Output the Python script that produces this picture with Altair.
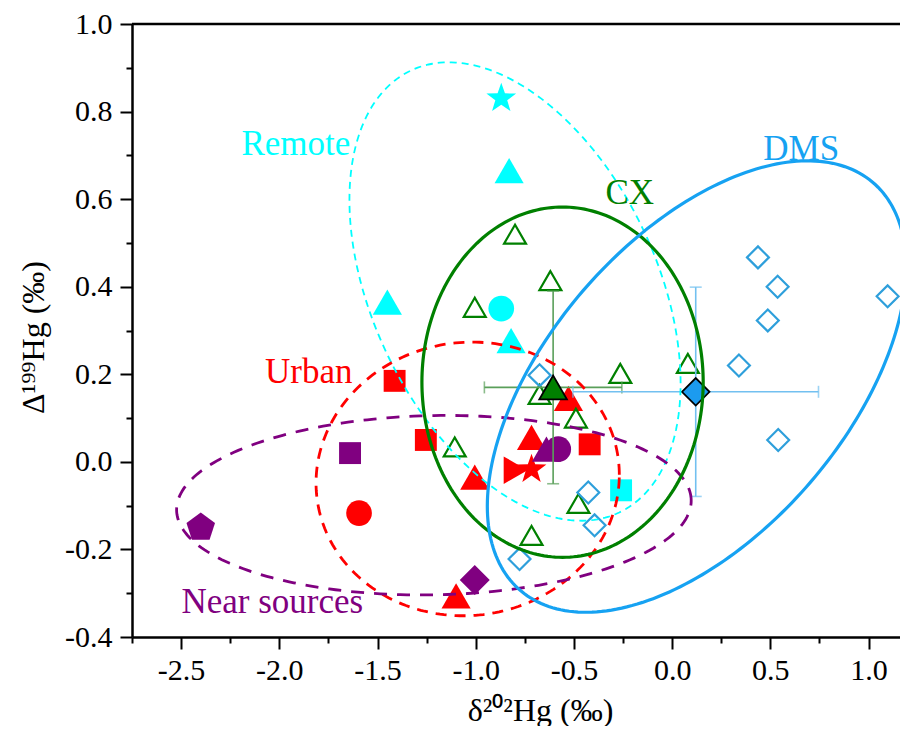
import numpy as np
import pandas as pd
import altair as alt

FONT = "Liberation Serif"

# ---------------- data ----------------
remote_x = [-0.87, -0.83, -1.45, -0.87, -0.82, -0.26]
remote_y = [0.83, 0.665, 0.365, 0.35, 0.277, -0.065]
remote_shape = ["star", "triangle-up", "triangle-up", "circle", "triangle-up", "square"]

urban_x = [-1.413, -1.254, -1.594, -1.10, -1.005, -0.716, -0.797, -0.716, -0.528, -0.42]
urban_y = [0.185, 0.05, -0.117, -0.306, -0.035, 0.056, -0.019, -0.017, 0.145, 0.04]
urban_shape = ["square", "square", "circle", "triangle-up", "triangle-up", "triangle-up",
               "triangle-right", "star", "triangle-up", "square"]

near_x = [-1.64, -2.40, -1.005, -0.64, -0.58]
near_y = [0.02, -0.15, -0.27, 0.029, 0.029]
near_shape = ["square", "pentagon", "diamond", "triangle-up", "circle"]

cx_x = [-0.80, -0.62, -1.005, -0.264, -0.675, -0.49, -1.107, 0.08, -0.477, -0.716]
cx_y = [0.52, 0.414, 0.353, 0.202, 0.154, 0.10, 0.034, 0.225, -0.095, -0.168]

dms_x = [0.437, 0.537, 0.487, 0.34, 0.54, 1.097, -0.427, -0.395, -0.777, -0.675]
dms_y = [0.467, 0.40, 0.323, 0.22, 0.05, 0.378, -0.07, -0.145, -0.222, 0.198]

mean_group = ["CX", "DMS"]
mean_shape = ["triangle-up", "diamond"]
mean_x = [-0.606, 0.12]
mean_y = [0.17, 0.16]
mean_xerr = [0.35, 0.625]
mean_yerr = [0.22, 0.239]

# ellipses: centre, half-extent in x and y, correlation
ell_name = ["Remote", "Urban", "Near sources", "CX", "DMS"]
ell_cx = [-0.80, -1.041, -1.213, -0.558, 0.125]
ell_cy = [0.389, -0.039, -0.099, 0.182, 0.172]
ell_sx = [0.843, 0.772, 1.31, 0.716, 1.066]
ell_sy = [0.5235, 0.3125, 0.205, 0.40, 0.5155]
ell_rho = [-0.40, 0.03, 0.05, 0.0, 0.53]

label_text = ["Remote", "DMS", "CX", "Urban", "Near sources"]
label_x = [-1.916, 0.657, -0.216, -1.850, -2.036]
label_y = [0.700, 0.690, 0.590, 0.180, -0.345]

x_ticks = [round(-2.75 + 0.25 * k, 2) for k in range(16)]
y_ticks = [round(-0.4 + 0.1 * k, 2) for k in range(15)]

# ---------------- styles ----------------
group_color = {"Remote": "#00FFFF", "Urban": "#FF0000", "Near sources": "#800080",
               "CX": "#008000", "DMS": "#2E9FDB"}
ell_style = {
    "Remote": dict(color="#00FFFF", strokeWidth=1.8, strokeDash=[7, 5]),
    "Urban": dict(color="#FF0000", strokeWidth=2.8, strokeDash=[11, 8]),
    "Near sources": dict(color="#800080", strokeWidth=2.8, strokeDash=[13, 10]),
    "CX": dict(color="#008000", strokeWidth=3.2),
    "DMS": dict(color="#16A2F2", strokeWidth=3.2),
}
label_color = {"Remote": "#00FFFF", "DMS": "#16A2F2", "CX": "#008000",
               "Urban": "#FF0000", "Near sources": "#800080"}
err_color = {"CX": "#5A9F5A", "DMS": "#72C0F0"}
mean_fill = {"CX": "#008000", "DMS": "#1C9BEF"}


def poly_path(n_pts, radii):
    pts = []
    for k in range(n_pts):
        a = -np.pi / 2 + k * 2 * np.pi / n_pts
        r = radii[k % len(radii)]
        pts.append(f"{r*np.cos(a):.4f},{r*np.sin(a):.4f}")
    return "M" + "L".join(pts) + "Z"


STAR = poly_path(10, [1.0, 0.4])
PENT = poly_path(5, [1.0])
shape_keys = ["circle", "square", "triangle-up", "triangle-right", "diamond", "star", "pentagon"]
shape_vals = ["circle", "square", "triangle-up", "triangle-right", "diamond", STAR, PENT]
shape_size = {"circle": 660, "square": 480, "triangle-up": 850, "triangle-right": 760,
              "diamond": 900, "star": 980, "pentagon": 900}

# ---------------- frames ----------------
rows = []
for g, xs, ys, ss in [("Remote", remote_x, remote_y, remote_shape),
                      ("Urban", urban_x, urban_y, urban_shape),
                      ("Near sources", near_x, near_y, near_shape)]:
    for x, y, s in zip(xs, ys, ss):
        rows.append(dict(x=x, y=y, group=g, shape=s, size=shape_size[s]))
filled_df = pd.DataFrame(rows)

open_rows = [dict(x=x, y=y, group="CX", shape="triangle-up", size=480) for x, y in zip(cx_x, cx_y)]
open_rows += [dict(x=x, y=y, group="DMS", shape="diamond", size=480) for x, y in zip(dms_x, dms_y)]
open_df = pd.DataFrame(open_rows)

xsc = alt.Scale(domain=[-2.75, 1.16], nice=False, zero=False)
ysc = alt.Scale(domain=[-0.4, 1.0], nice=False, zero=False)

major_x = "abs(datum.value*2 - round(datum.value*2)) < 0.001"
major_y = "abs(datum.value*5 - round(datum.value*5)) < 0.001"

common = dict(grid=False, domainColor="black", domainWidth=2.5, tickColor="black", tickWidth=2,
              labelFont=FONT, labelFontSize=30, labelColor="black",
              titleFont=FONT, titleFontSize=32, titleFontWeight="normal", titleColor="black")

x_axis = alt.Axis(
    values=x_ticks, title="δ²⁰²Hg (‰)",
    labelExpr=f"{major_x} ? replace(format(datum.value, '.1f'), '\u2212', '-') : ''",
    tickSize={"condition": {"test": major_x, "value": 12}, "value": 6},
    labelPadding=6, titleX=408, titleY=83, titleAlign="center", titleBaseline="alphabetic",
    **common,
)
y_axis = alt.Axis(
    values=y_ticks, title="Δ¹⁹⁹Hg (‰)",
    labelExpr=f"{major_y} ? replace(format(datum.value, '.1f'), '\u2212', '-') : ''",
    tickSize={"condition": {"test": major_y, "value": 12}, "value": 6},
    labelPadding=8, titleX=-89, titleY=313, titleAngle=270, titleAlign="center",
    titleBaseline="alphabetic",
    **common,
)

color_scale = alt.Scale(domain=list(group_color.keys()), range=list(group_color.values()))
shape_scale = alt.Scale(domain=shape_keys, range=shape_vals)

layers = []

# top frame line
layers.append(alt.Chart(pd.DataFrame({"v": [1.0]})).mark_rule(color="black", strokeWidth=2.5)
              .encode(y=alt.Y("v:Q", scale=ysc, axis=y_axis)))

filled = alt.Chart(filled_df).mark_point(filled=True, opacity=1, strokeWidth=0).encode(
    x=alt.X("x:Q", scale=xsc, axis=x_axis),
    y=alt.Y("y:Q", scale=ysc, axis=y_axis),
    color=alt.Color("group:N", scale=color_scale, legend=None),
    shape=alt.Shape("shape:N", scale=shape_scale, legend=None),
    size=alt.Size("size:Q", scale=None),
)
opened = alt.Chart(open_df).mark_point(filled=False, opacity=1, strokeWidth=2.2).encode(
    x=alt.X("x:Q", scale=xsc, axis=x_axis),
    y=alt.Y("y:Q", scale=ysc, axis=y_axis),
    color=alt.Color("group:N", scale=color_scale, legend=None),
    shape=alt.Shape("shape:N", scale=shape_scale, legend=None),
    size=alt.Size("size:Q", scale=None),
)
layers += [filled, opened]

# error bars and means
for g, mx, my, ex, ey, sh in zip(mean_group, mean_x, mean_y, mean_xerr, mean_yerr, mean_shape):
    c = err_color[g]
    d = pd.DataFrame({"x": [mx], "y": [my], "xlo": [mx - ex], "xhi": [mx + ex],
                      "ylo": [my - ey], "yhi": [my + ey]})
    base = alt.Chart(d)
    layers.append(base.mark_rule(color=c, strokeWidth=1.6).encode(
        x=alt.X("xlo:Q", scale=xsc, axis=x_axis), x2="xhi:Q", y=alt.Y("y:Q", scale=ysc, axis=y_axis)))
    layers.append(base.mark_rule(color=c, strokeWidth=1.6).encode(
        x=alt.X("x:Q", scale=xsc, axis=x_axis), y=alt.Y("ylo:Q", scale=ysc, axis=y_axis), y2="yhi:Q"))
    capsx = pd.DataFrame({"x": [mx - ex, mx + ex], "y": [my, my]})
    capsy = pd.DataFrame({"x": [mx, mx], "y": [my - ey, my + ey]})
    layers.append(alt.Chart(capsx).mark_tick(color=c, orient="vertical", size=12, thickness=1.6).encode(
        x=alt.X("x:Q", scale=xsc, axis=x_axis), y=alt.Y("y:Q", scale=ysc, axis=y_axis)))
    layers.append(alt.Chart(capsy).mark_tick(color=c, orient="horizontal", size=12, thickness=1.6).encode(
        x=alt.X("x:Q", scale=xsc, axis=x_axis), y=alt.Y("y:Q", scale=ysc, axis=y_axis)))
    layers.append(alt.Chart(pd.DataFrame({"x": [mx], "y": [my], "shape": [sh]}))
                  .mark_point(filled=True, opacity=1, fill=mean_fill[g], stroke="black", strokeWidth=1.8,
                              size=760)
                  .encode(x=alt.X("x:Q", scale=xsc, axis=x_axis), y=alt.Y("y:Q", scale=ysc, axis=y_axis),
                          shape=alt.Shape("shape:N", scale=shape_scale, legend=None)))

# ellipses
t = np.linspace(0, 2 * np.pi, 241)
for name, cx, cy, sx, sy, rho in zip(ell_name, ell_cx, ell_cy, ell_sx, ell_sy, ell_rho):
    ex_ = cx + sx * np.cos(t)
    ey_ = cy + sy * (rho * np.cos(t) + np.sqrt(1 - rho ** 2) * np.sin(t))
    d = pd.DataFrame({"x": ex_, "y": ey_, "i": np.arange(len(t))})
    layers.append(alt.Chart(d).mark_line(**ell_style[name]).encode(
        x=alt.X("x:Q", scale=xsc, axis=x_axis), y=alt.Y("y:Q", scale=ysc, axis=y_axis),
        order="i:Q"))

# group labels
for txt, lx, ly in zip(label_text, label_x, label_y):
    layers.append(alt.Chart(pd.DataFrame({"x": [lx], "y": [ly], "t": [txt]}))
                  .mark_text(font=FONT, fontSize=35, align="center", baseline="alphabetic",
                             color=label_color[txt])
                  .encode(x=alt.X("x:Q", scale=xsc, axis=x_axis), y=alt.Y("y:Q", scale=ysc, axis=y_axis),
                          text="t:N"))

chart = alt.layer(*layers).properties(
    width=768, height=613,
    autosize=alt.AutoSizeParams(type="none"),
    padding={"left": 124, "top": 16, "right": 0, "bottom": 89},
).configure_view(stroke=None).configure_axis(
    domainColor="black", domainWidth=2.5, tickColor="black", tickWidth=2,
    labelFont=FONT, labelFontSize=30, labelColor="black",
    titleFont=FONT, titleFontSize=32, titleFontWeight="normal", titleColor="black",
)

chart.save("out.html", embed_options={"renderer": "svg", "actions": False})
